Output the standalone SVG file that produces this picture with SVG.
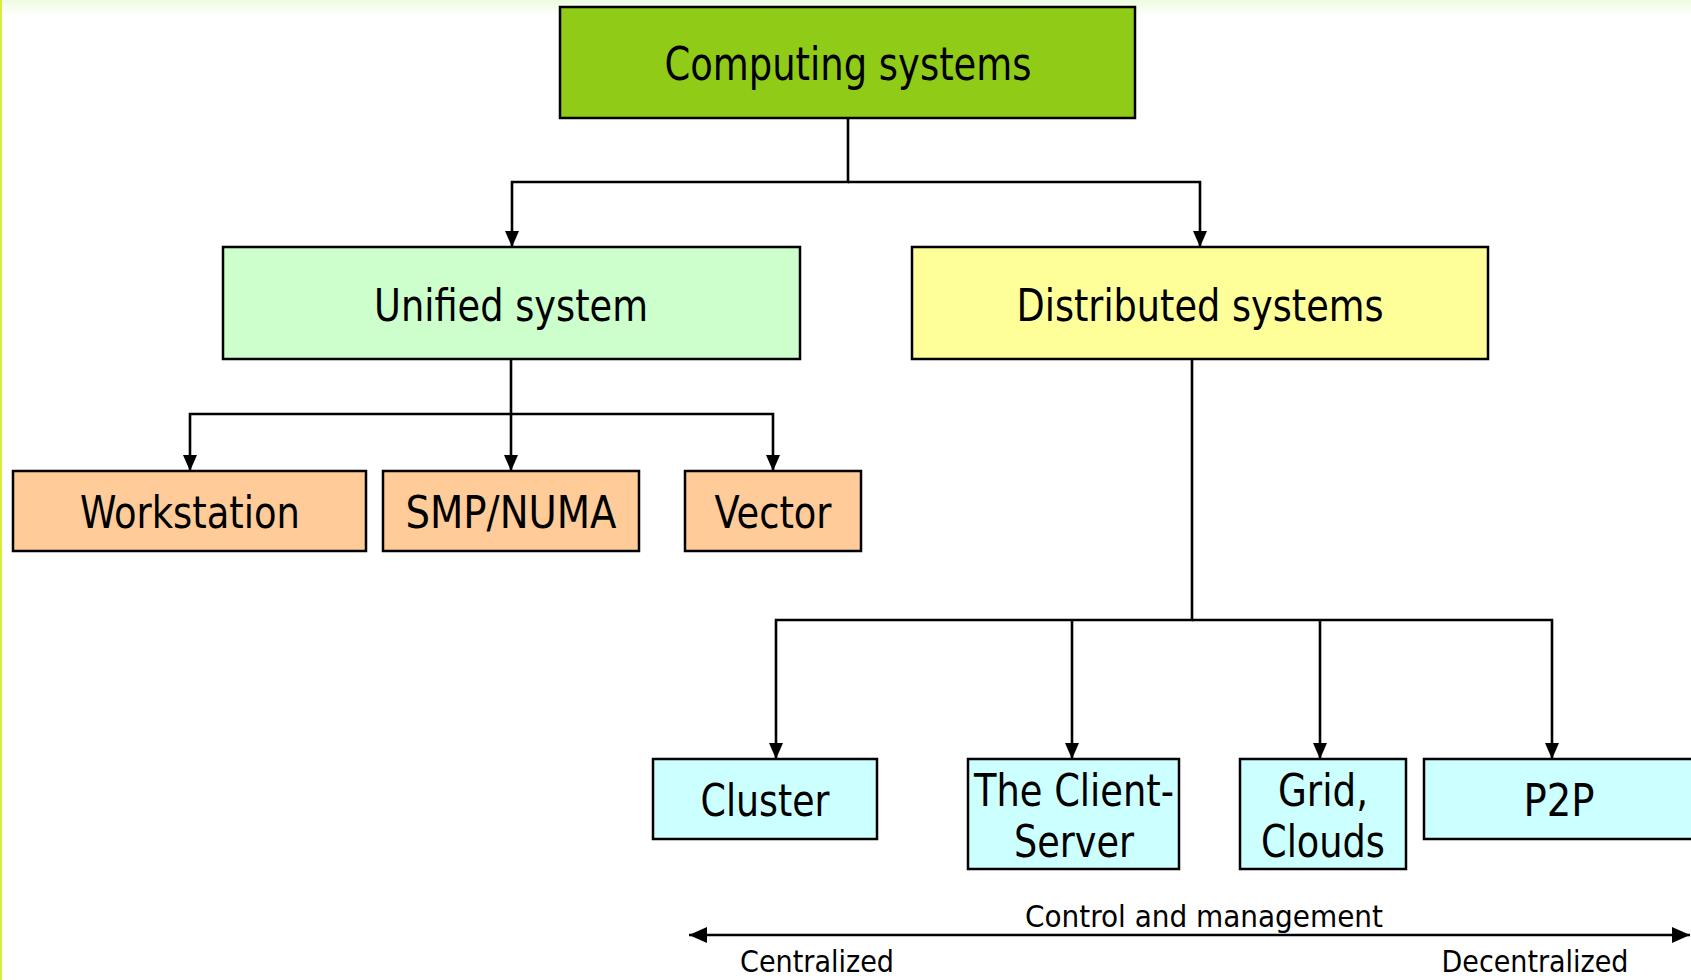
<svg xmlns="http://www.w3.org/2000/svg" width="1691" height="980" viewBox="0 0 1691 980">
<style>
.box{stroke:#000;stroke-width:2.5}
.lbl{font-family:"DejaVu Sans Condensed","DejaVu Sans","Liberation Sans",sans-serif;font-stretch:condensed;font-size:45px;fill:#000;text-anchor:middle}
.sm{font-family:"DejaVu Sans Condensed","DejaVu Sans","Liberation Sans",sans-serif;font-stretch:condensed;font-size:30px;fill:#000;text-anchor:middle}
.con{fill:none;stroke:#000;stroke-width:2.6}
</style>
<defs>
<linearGradient id="topg" x1="0" y1="0" x2="0" y2="1">
<stop offset="0" stop-color="#eefbe0"/>
<stop offset="1" stop-color="#ffffff"/>
</linearGradient>
<marker id="ah" viewBox="0 0 16 14" refX="16" refY="7" markerWidth="16" markerHeight="14" markerUnits="userSpaceOnUse" orient="auto">
<path d="M0,0 L16,7 L0,14 Z" fill="#000"/>
</marker>
<marker id="ah2" viewBox="0 0 18 16" refX="18" refY="8" markerWidth="18" markerHeight="16" markerUnits="userSpaceOnUse" orient="auto-start-reverse">
<path d="M0,0 L18,8 L0,16 Z" fill="#000"/>
</marker>
</defs>
<rect x="0" y="0" width="1691" height="980" fill="#fff"/>
<rect x="0" y="0" width="1691" height="16" fill="url(#topg)"/>
<rect x="0" y="0" width="2" height="980" fill="#d6ee3a"/>

<g id="connectors">
<path class="con" d="M848,118 V182 H512 V247" marker-end="url(#ah)"/>
<path class="con" d="M848,182 H1200 V247" marker-end="url(#ah)"/>
<path class="con" d="M511,359 V414 H190 V471" marker-end="url(#ah)"/>
<path class="con" d="M511,414 V471" marker-end="url(#ah)"/>
<path class="con" d="M511,414 H773 V471" marker-end="url(#ah)"/>
<path class="con" d="M1192,359 V620 H776 V759" marker-end="url(#ah)"/>
<path class="con" d="M1192,620 H1552 V759" marker-end="url(#ah)"/>
<path class="con" d="M1072,620 V759" marker-end="url(#ah)"/>
<path class="con" d="M1320,620 V759" marker-end="url(#ah)"/>
<path class="con" d="M689,935 H1690" stroke-width="3" marker-start="url(#ah2)" marker-end="url(#ah2)"/>
</g>

<g id="computing">
<rect class="box" x="560" y="7" width="575" height="111" fill="#90cb18"/>
<text class="lbl" x="848" y="80" textLength="367" lengthAdjust="spacingAndGlyphs" style="font-size:46px">Computing systems</text>
</g>
<g id="unified">
<rect class="box" x="223" y="247" width="577" height="112" fill="#ccffcc"/>
<text class="lbl" x="511" y="321" textLength="274" lengthAdjust="spacingAndGlyphs">Unified system</text>
</g>
<g id="distributed">
<rect class="box" x="912" y="247" width="576" height="112" fill="#ffff99"/>
<text class="lbl" x="1200" y="321" textLength="367" lengthAdjust="spacingAndGlyphs">Distributed systems</text>
</g>
<g id="workstation">
<rect class="box" x="13" y="471" width="353" height="80" fill="#ffcc99"/>
<text class="lbl" x="190" y="528" textLength="220" lengthAdjust="spacingAndGlyphs">Workstation</text>
</g>
<g id="smp">
<rect class="box" x="383" y="471" width="256" height="80" fill="#ffcc99"/>
<text class="lbl" x="511" y="528" textLength="211" lengthAdjust="spacingAndGlyphs">SMP/NUMA</text>
</g>
<g id="vector">
<rect class="box" x="685" y="471" width="176" height="80" fill="#ffcc99"/>
<text class="lbl" x="773" y="528" textLength="117" lengthAdjust="spacingAndGlyphs">Vector</text>
</g>
<g id="cluster">
<rect class="box" x="653" y="759" width="224" height="80" fill="#ccffff"/>
<text class="lbl" x="765" y="816" textLength="129" lengthAdjust="spacingAndGlyphs">Cluster</text>
</g>
<g id="clientserver">
<rect class="box" x="968" y="759" width="211" height="110" fill="#ccffff"/>
<text class="lbl" x="1074" y="806" textLength="200" lengthAdjust="spacingAndGlyphs">The Client-</text>
<text class="lbl" x="1074" y="857" textLength="120" lengthAdjust="spacingAndGlyphs">Server</text>
</g>
<g id="grid">
<rect class="box" x="1240" y="759" width="166" height="110" fill="#ccffff"/>
<text class="lbl" x="1323" y="806" textLength="90" lengthAdjust="spacingAndGlyphs">Grid,</text>
<text class="lbl" x="1323" y="857" textLength="124" lengthAdjust="spacingAndGlyphs">Clouds</text>
</g>
<g id="p2p">
<rect class="box" x="1424" y="759" width="280" height="80" fill="#ccffff"/>
<text class="lbl" x="1559" y="816" textLength="71" lengthAdjust="spacingAndGlyphs">P2P</text>
</g>
<g id="labels">
<text class="sm" x="1204" y="927" textLength="358" lengthAdjust="spacingAndGlyphs">Control and management</text>
<text class="sm" x="817" y="972" textLength="154" lengthAdjust="spacingAndGlyphs">Centralized</text>
<text class="sm" x="1535" y="972" textLength="187" lengthAdjust="spacingAndGlyphs">Decentralized</text>
</g>
</svg>
